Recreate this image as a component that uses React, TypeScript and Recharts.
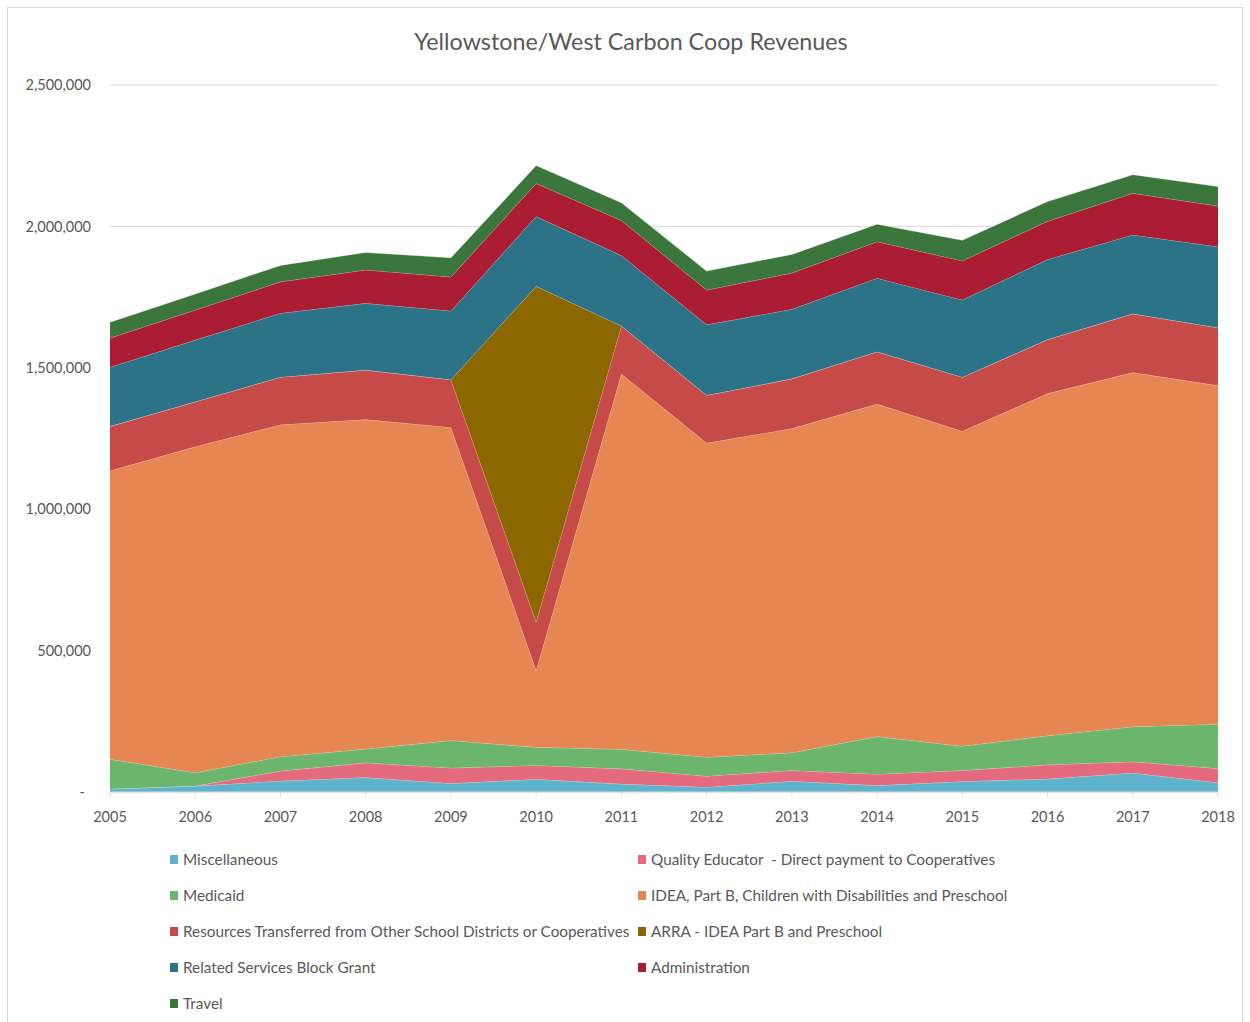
import { AreaChart, Area, XAxis, YAxis, CartesianGrid, Legend } from "recharts";

const FONT = "Lato, 'Open Sans', sans-serif";
const INK = "#595959";

const years = ["2005", "2006", "2007", "2008", "2009", "2010", "2011", "2012", "2013", "2014", "2015", "2016", "2017", "2018"];

const miscellaneous = [11000, 21000, 39000, 51000, 30000, 45000, 28000, 17000, 38000, 23000, 37000, 46000, 67000, 33000];
const qualityEducator = [0, 0, 35000, 52000, 55000, 49000, 54000, 39000, 38000, 40000, 39000, 50000, 40000, 50000];
const medicaid = [105000, 47000, 51000, 49000, 97000, 64000, 69000, 67000, 63000, 133000, 86000, 103000, 124000, 157000];
const idea = [1020000, 1153000, 1174000, 1165000, 1107000, 272000, 1327000, 1111000, 1146000, 1176000, 1114000, 1210000, 1252000, 1197000];
const resourcesTransferred = [157000, 159000, 168000, 175000, 169000, 171000, 170000, 169000, 176000, 185000, 191000, 191000, 208000, 205000];
const arra = [0, 0, 0, 0, 0, 1187000, 0, 0, 0, 0, 0, 0, 0, 0];
const relatedServices = [209000, 218000, 226000, 236000, 243000, 247000, 249000, 249000, 246000, 260000, 273000, 283000, 279000, 286000];
const administration = [103000, 106000, 111000, 118000, 120000, 117000, 124000, 123000, 128000, 129000, 138000, 135000, 147000, 144000];
const travel = [56000, 57000, 58000, 62000, 68000, 63000, 63000, 67000, 66000, 62000, 73000, 70000, 66000, 69000];

const yTicks = [0, 500000, 1000000, 1500000, 2000000, 2500000];

// bottom of the stack first; legend reads the same order, two per row
const series = [
  { key: "misc", name: "Miscellaneous", color: "#5EB3CC", values: miscellaneous },
  { key: "qe", name: "Quality Educator  - Direct payment to Cooperatives", color: "#E46B7D", values: qualityEducator },
  { key: "medicaid", name: "Medicaid", color: "#6BB66C", values: medicaid },
  { key: "idea", name: "IDEA, Part B, Children with Disabilities and Preschool", color: "#E68652", values: idea },
  { key: "resources", name: "Resources Transferred from Other School Districts or Cooperatives", color: "#C64A48", values: resourcesTransferred },
  { key: "arra", name: "ARRA - IDEA Part B and Preschool", color: "#8C6700", values: arra },
  { key: "related", name: "Related Services Block Grant", color: "#2D7388", values: relatedServices },
  { key: "admin", name: "Administration", color: "#AA1D33", values: administration },
  { key: "travel", name: "Travel", color: "#3B763C", values: travel },
];

const data = years.map((year, i) => {
  const row: Record<string, string | number> = { year };
  series.forEach((s) => (row[s.key] = s.values[i]));
  return row;
});

function YTick({ x, y, payload }: any) {
  const v = payload.value as number;
  return (
    <text
      x={v === 0 ? x - 6 : x}
      y={y}
      dy="0.355em"
      textAnchor="end"
      fill={INK}
      fontFamily={FONT}
      fontSize={14.5}
    >
      {v === 0 ? "-" : v.toLocaleString("en-US")}
    </text>
  );
}

function SeriesLegend() {
  return (
    <div style={{ position: "relative", height: 190, fontFamily: FONT, fontSize: 15.3, color: INK }}>
      {series.map((s, i) => {
        const col = i % 2;
        const row = Math.floor(i / 2);
        return (
          <div
            key={s.key}
            style={{
              position: "absolute",
              left: col ? 638 : 170,
              top: 9 + row * 36,
              height: 36,
              display: "flex",
              alignItems: "center",
              whiteSpace: "pre",
            }}
          >
            <span style={{ display: "inline-block", width: 8, height: 9, background: s.color, marginRight: 5 }} />
            {s.name}
          </div>
        );
      })}
    </div>
  );
}

export default function App() {
  return (
    <div style={{ position: "absolute", left: 0, top: 0, width: 1250, height: 1022, overflow: "hidden", background: "#fff" }}>
      <div
        style={{
          position: "absolute",
          left: 7,
          top: 7,
          width: 1236,
          height: 1040,
          border: "1px solid #d9d9d9",
          boxSizing: "border-box",
        }}
      />
      <div
        style={{
          position: "absolute",
          left: 0,
          top: 27,
          width: 1262,
          textAlign: "center",
          fontFamily: FONT,
          fontSize: 23.3,
          color: INK,
        }}
      >
        Yellowstone/West Carbon Coop Revenues
      </div>
      <div style={{ position: "absolute", left: 0, top: 0 }}>
        <AreaChart width={1250} height={1022} data={data} margin={{ top: 85, right: 32, left: 10, bottom: 0 }}>
          <CartesianGrid vertical={false} stroke="#d9d9d9" />
          <XAxis
            dataKey="year"
            interval={0}
            height={40}
            tickSize={5}
            tickMargin={15}
            axisLine={{ stroke: "#d9d9d9" }}
            tickLine={{ stroke: "#d9d9d9" }}
            tick={{ fill: INK, fontFamily: FONT, fontSize: 14.5 }}
          />
          <YAxis
            width={100}
            domain={[0, 2500000]}
            ticks={yTicks}
            axisLine={false}
            tickLine={false}
            tickSize={0}
            tickMargin={19}
            tick={<YTick />}
          />
          <Legend verticalAlign="bottom" height={190} wrapperStyle={{ left: 0, width: 1250 }} content={<SeriesLegend />} />
          {series.map((s) => (
            <Area
              key={s.key}
              type="linear"
              dataKey={s.key}
              name={s.name}
              stackId="rev"
              fill={s.color}
              fillOpacity={1}
              stroke="#ffffff"
              strokeOpacity={0.35}
              strokeWidth={1}
              isAnimationActive={false}
            />
          ))}
        </AreaChart>
      </div>
    </div>
  );
}
